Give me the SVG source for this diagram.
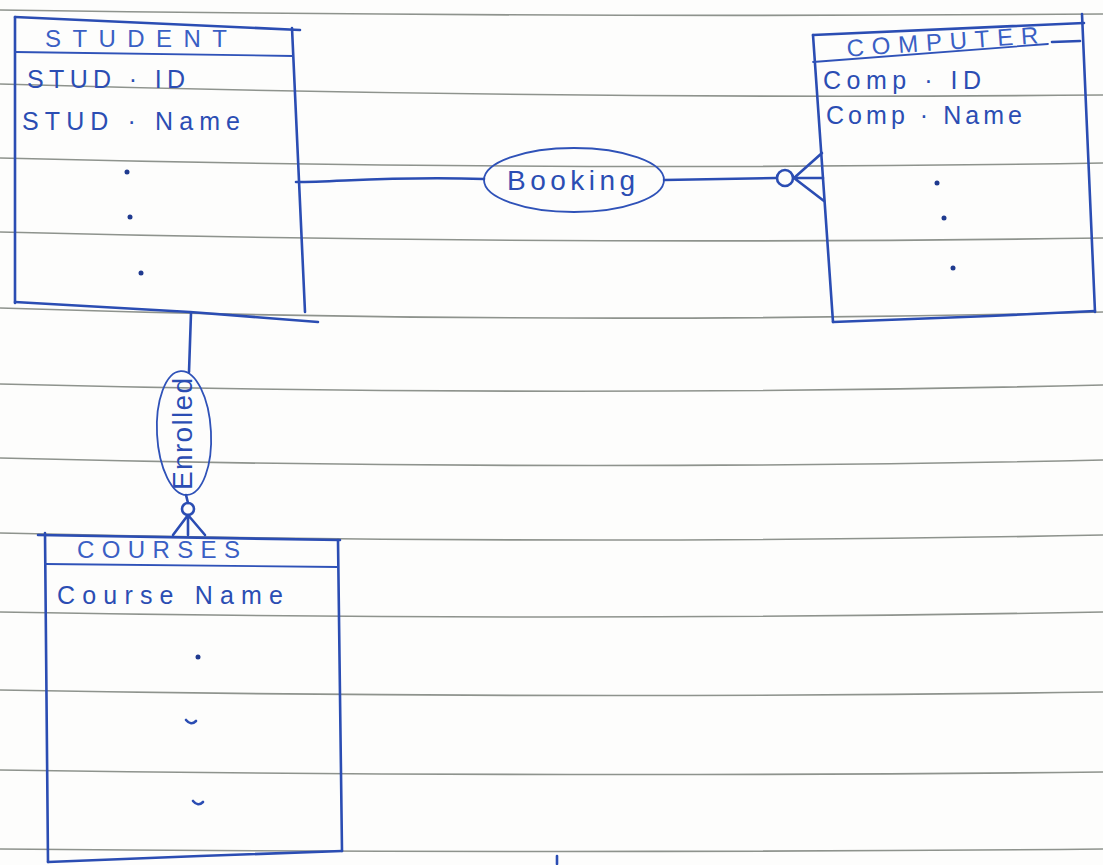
<svg xmlns="http://www.w3.org/2000/svg" width="1103" height="865" viewBox="0 0 1103 865">
  <style>
    .paper { fill: none; stroke: #8e938d; stroke-width: 1.6; }
    .ink { fill: none; stroke: #2b4db3; stroke-width: 2.6; stroke-linecap: round; stroke-linejoin: round; }
    .inkthin { fill: none; stroke: #2f52b8; stroke-width: 1.8; stroke-linecap: round; }
    .dot { fill: #1f3a8f; }
    .title { font-family: "Liberation Sans", "DejaVu Sans", sans-serif; font-size: 24px; fill: #3a5fc4; }
    .attr { font-family: "Liberation Sans", "DejaVu Sans", sans-serif; font-size: 25px; fill: #2b4db3; }
    .rel { font-family: "Liberation Sans", "DejaVu Sans", sans-serif; font-size: 28px; fill: #2b4db3; }
  </style>

  <!-- ruled notebook page -->
  <rect width="1103" height="865" fill="#fdfdfc"/>
  <g id="ruling">
    <path class="paper" d="M0,10 Q551,18 1103,14"/>
    <path class="paper" d="M0,84 Q551,100 1103,95"/>
    <path class="paper" d="M0,158 Q551,172 1103,163"/>
    <path class="paper" d="M0,232 Q551,246 1103,238"/>
    <path class="paper" d="M0,308 Q551,326 1103,312"/>
    <path class="paper" d="M0,384 Q551,398 1103,385"/>
    <path class="paper" d="M0,458 Q551,472 1103,460"/>
    <path class="paper" d="M0,533 Q551,546 1103,535"/>
    <path class="paper" d="M0,612 Q551,622 1103,612"/>
    <path class="paper" d="M0,690 Q551,700 1103,692"/>
    <path class="paper" d="M0,770 Q551,778 1103,772"/>
    <path class="paper" d="M0,849 Q551,854 1103,849"/>
  </g>

  <!-- entity: STUDENT -->
  <g id="student">
    <path class="ink" d="M15,17 L300,30"/>
    <path class="ink" d="M15,17 L15,303"/>
    <path class="ink" d="M292,28 L305,312"/>
    <path class="ink" d="M15,302 L190,312 L318,322"/>
    <path class="inkthin" d="M15,52 L293,56"/>
    <text class="title" x="45" y="47" textLength="182" lengthAdjust="spacing">STUDENT</text>
    <text class="attr" x="27" y="88" textLength="158" lengthAdjust="spacing" font-size="26">STUD · ID</text>
    <text class="attr" x="22" y="130" textLength="218" lengthAdjust="spacing" font-size="24">STUD · Name</text>
    <circle class="dot" cx="127" cy="172" r="2.5"/>
    <circle class="dot" cx="130" cy="217" r="2.5"/>
    <circle class="dot" cx="141" cy="273" r="2.5"/>
  </g>

  <!-- entity: COMPUTER -->
  <g id="computer">
    <path class="ink" d="M813,35 L1084,23"/>
    <path class="ink" d="M1082,14 L1095,312"/>
    <path class="ink" d="M813,35 L833,322"/>
    <path class="ink" d="M833,322 L990,316 L1095,311"/>
    <path class="inkthin" d="M813,62 L1048,44"/>
    <path class="ink" d="M1052,42 L1080,41" stroke-width="3.2"/>
    <text class="title" x="847" y="50" textLength="192" lengthAdjust="spacing" transform="rotate(-4 942 50)">COMPUTER</text>
    <text class="attr" x="823" y="89" textLength="158" lengthAdjust="spacing" font-size="26">Comp · ID</text>
    <text class="attr" x="826" y="124" textLength="196" lengthAdjust="spacing" font-size="22">Comp · Name</text>
    <circle class="dot" cx="937" cy="183" r="2.5"/>
    <circle class="dot" cx="944" cy="218" r="2.5"/>
    <circle class="dot" cx="953" cy="268" r="2.5"/>
  </g>

  <!-- entity: COURSES -->
  <g id="courses">
    <path class="ink" d="M38,535 L340,540"/>
    <path class="ink" d="M45,533 L48,862"/>
    <path class="ink" d="M338,540 L342,851"/>
    <path class="ink" d="M48,862 L200,856 L342,851"/>
    <path class="inkthin" d="M45,564 L338,567"/>
    <text class="title" x="77" y="558" textLength="163" lengthAdjust="spacing">COURSES</text>
    <text class="attr" x="57" y="604" textLength="226" lengthAdjust="spacing" font-size="26">Course Name</text>
    <circle class="dot" cx="198" cy="657" r="2.5"/>
    <path class="ink" d="M186,720 Q191,726 196,721"/>
    <path class="ink" d="M193,801 Q198,807 203,802"/>
  </g>

  <!-- relationship: Booking -->
  <g id="booking">
    <ellipse class="inkthin" cx="574" cy="180" rx="90" ry="32"/>
    <text class="rel" x="507" y="190" textLength="128" lengthAdjust="spacing">Booking</text>
  </g>

  <!-- relationship: Enrolled -->
  <g id="enrolled">
    <ellipse class="inkthin" cx="184" cy="433" rx="27" ry="62" transform="rotate(-3 184 433)"/>
    <text class="rel" font-size="22" x="0" y="0" textLength="112" lengthAdjust="spacing" transform="translate(192 490) rotate(-90)">Enrolled</text>
  </g>

  <!-- relationship lines with crow's-foot ends -->
  <g id="connectors">
    <path class="ink" d="M296,182 C340,182 390,176 484,179"/>
    <path class="ink" d="M664,180 L776,178"/>
    <circle class="ink" cx="785" cy="178" r="8"/>
    <path class="ink" d="M794,178 L822,153 M794,178 L824,201 M794,178 L823,178"/>

    <path class="ink" d="M191,313 L189,372"/>
    <path class="ink" d="M186,495 L188,503"/>
    <circle class="ink" cx="188" cy="509" r="6"/>
    <path class="ink" d="M188,515 L173,535 M188,515 L205,535 M188,515 L188,535"/>
  </g>

  <!-- stray pen mark at the page foot -->
  <path class="ink" d="M557,856 L557,864"/>
</svg>
